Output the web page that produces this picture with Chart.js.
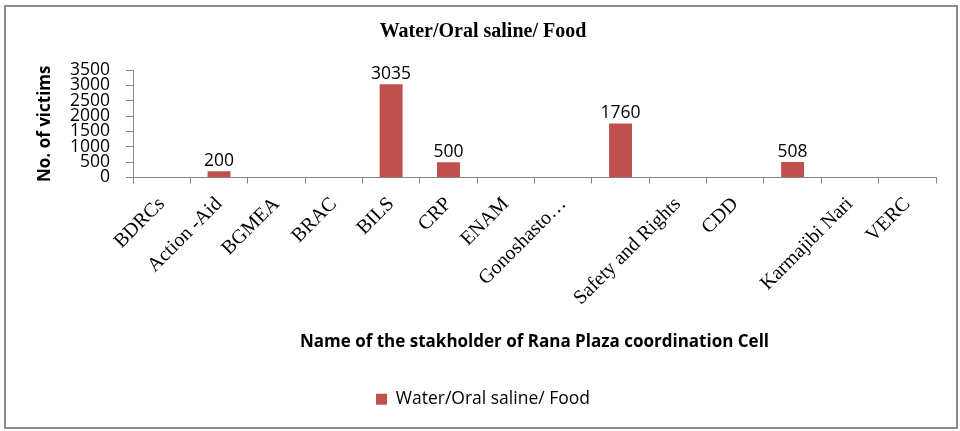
<!DOCTYPE html>
<html>
<head>
<meta charset="utf-8">
<title>Water/Oral saline/ Food</title>
<script src="https://cdn.jsdelivr.net/npm/chart.js@4.4.1/dist/chart.umd.min.js"></script>
<style>
  html, body { margin: 0; padding: 0; background: #fff; }
  canvas { display: block; }
</style>
</head>
<body>
<canvas id="myChart" width="960" height="431"></canvas>
<script>
// data; '' = category with no visible label, null = no bar
const categories = ['BDRCs', 'Action -Aid', 'BGMEA', 'BRAC', 'BILS', 'CRP', 'ENAM',
  'Gonoshasto\u2026', '', 'Safety and Rights', 'CDD', '', 'Karmajibi Nari', 'VERC'];
const victims = [null, 200, null, null, 3035, 500, null, null, 1760, null, null, 508, null, null];
const yTickValues = [0, 500, 1000, 1500, 2000, 2500, 3000, 3500];
const seriesName = 'Water/Oral saline/ Food';

const SANS = "'Open Sans', sans-serif";
const SERIF = "'Liberation Serif', 'Times New Roman', serif";
const AXIS_GREY = '#868686';

// white page + grey frame round the whole chart
const frame = {
  id: 'frame',
  beforeDraw(chart) {
    const ctx = chart.ctx;
    ctx.save();
    ctx.fillStyle = '#fff';
    ctx.fillRect(0, 0, chart.width, chart.height);
    ctx.strokeStyle = '#8c8c8c';
    ctx.lineWidth = 2;
    ctx.strokeRect(5, 6, 952, 422);
    ctx.restore();
  }
};

// value on top of each bar
const valueLabels = {
  id: 'valueLabels',
  afterDatasetsDraw(chart) {
    const ctx = chart.ctx;
    const meta = chart.getDatasetMeta(0);
    ctx.save();
    ctx.font = '17.5px ' + SANS;
    ctx.fillStyle = '#000';
    ctx.textAlign = 'center';
    ctx.textBaseline = 'alphabetic';
    meta.data.forEach((bar, i) => {
      const v = victims[i];
      if (v === null) return;
      ctx.fillText(String(v), bar.x, bar.y - 5);
    });
    ctx.restore();
  }
};

new Chart('myChart', {
  type: 'bar',
  data: {
    labels: categories,
    datasets: [{
      label: seriesName,
      data: victims,
      backgroundColor: '#C0504D',
      barPercentage: 0.4,
      categoryPercentage: 1
    }]
  },
  options: {
    responsive: false,
    animation: false,
    layout: { padding: { left: 30, right: 24, top: 0, bottom: 13 } },
    plugins: {
      title: {
        display: true,
        text: seriesName,
        color: '#000',
        font: { family: SERIF, size: 20, weight: 'bold', lineHeight: 1.2 },
        padding: { top: 20, bottom: 26 }
      },
      legend: {
        position: 'bottom',
        labels: {
          color: '#000',
          boxWidth: 11,
          boxHeight: 11,
          padding: 10,
          font: { family: SANS, size: 17.5 }
        }
      },
      tooltip: { enabled: false }
    },
    scales: {
      x: {
        grid: { offset: true, drawOnChartArea: false, tickLength: 6, color: AXIS_GREY },
        border: { color: AXIS_GREY },
        ticks: {
          autoSkip: false,
          minRotation: 45,
          maxRotation: 45,
          padding: 9,
          color: '#000',
          font: { family: SERIF, size: 20 }
        },
        title: {
          display: true,
          text: 'Name of the stakholder of Rana Plaza coordination Cell',
          color: '#000',
          font: { family: SANS, size: 17, weight: 'bold' },
          padding: { top: 0, bottom: 28 }
        },
        afterFit(scale) { scale.height = 203; }
      },
      y: {
        min: 0,
        max: 3500,
        afterBuildTicks(scale) {
          scale.ticks = yTickValues.map(v => ({ value: v }));
        },
        grid: { drawOnChartArea: false, tickLength: 7, color: AXIS_GREY },
        border: { color: AXIS_GREY },
        ticks: {
          autoSkip: false,
          padding: 16,
          color: '#000',
          font: { family: SANS, size: 17.5 },
          callback: v => String(v)
        },
        title: {
          display: true,
          text: 'No. of victims',
          color: '#000',
          font: { family: SANS, size: 17, weight: 'bold' },
          padding: { top: 5, bottom: 0 }
        },
        afterFit(scale) { scale.width = 103; }
      }
    }
  },
  plugins: [frame, valueLabels]
});
</script>
</body>
</html>
